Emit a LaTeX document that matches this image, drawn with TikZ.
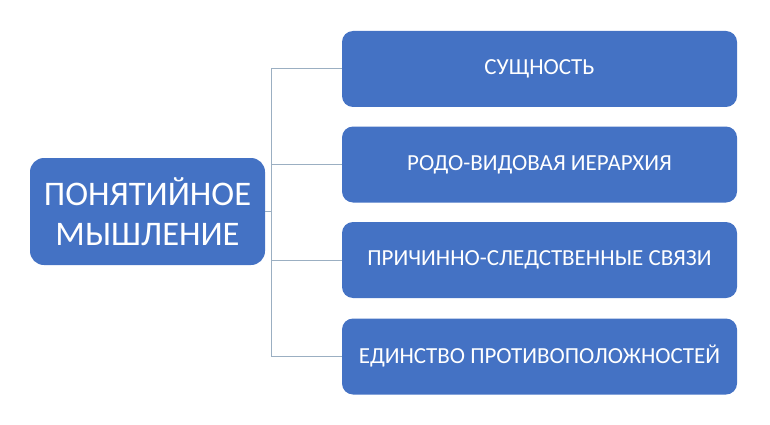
\documentclass[tikz,border=0pt]{standalone}
\usepackage{fontspec}
\setmainfont{Carlito}
\definecolor{boxblue}{HTML}{4472C4}
\definecolor{linegray}{HTML}{9BAFC2}
\tikzset{
  x=1pt,y=-1pt,
  mainbox/.style={draw=none,fill=boxblue,rounded corners=14pt,text=white,align=center,inner sep=0pt,font=\fontsize{34.5}{40}\selectfont},
  itembox/.style={draw=none,fill=boxblue,rounded corners=11pt,text=white,align=center,inner sep=0pt,minimum width=395pt,minimum height=76pt,font=\fontsize{23}{27}\selectfont},
  conn/.style={draw=linegray,line width=1pt}
}
\begin{document}
\begin{tikzpicture}
\useasboundingbox (0,0) rectangle (770,425);
\node[mainbox,minimum width=235pt,minimum height=107pt] (m) at (147.5,211.5) {ПОНЯТИЙНОЕ\\МЫШЛЕНИЕ};
\node[itembox] (a) at (539.5,69) {СУЩНОСТЬ};
\node[itembox] (b) at (539.5,164.5) {РОДО-ВИДОВАЯ ИЕРАРХИЯ};
\node[itembox] (c) at (539.5,260) {ПРИЧИННО-СЛЕДСТВЕННЫЕ СВЯЗИ};
\node[itembox] (d) at (539.5,356.5) {ЕДИНСТВО ПРОТИВОПОЛОЖНОСТЕЙ};
\coordinate (j) at (271,211.5);
\draw[conn] (m.east) -- (j);
\draw[conn] (a.west) -| (j);
\draw[conn] (b.west) -| (j);
\draw[conn] (c.west) -| (j);
\draw[conn] (d.west) -| (j);
\end{tikzpicture}
\end{document}
